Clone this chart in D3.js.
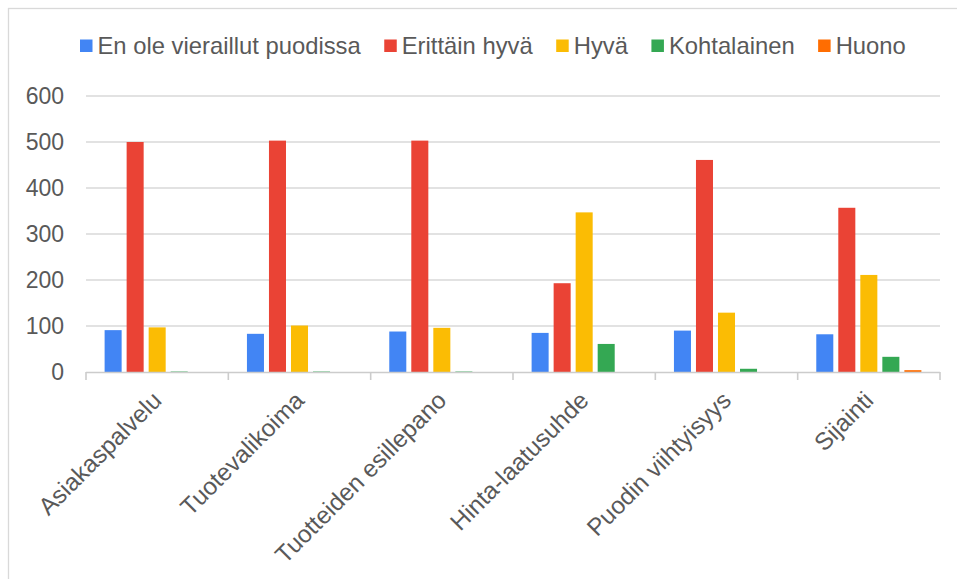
<!DOCTYPE html>
<html>
<head>
<meta charset="utf-8">
<script src="https://cdn.jsdelivr.net/npm/d3@7"></script>
<style>
  html, body { margin: 0; padding: 0; background: #fff; }
  svg { display: block; font-family: "Liberation Sans", Arial, sans-serif; }
</style>
</head>
<body>
<svg id="chart" width="957" height="579"></svg>
<script>
// Survey answers per store aspect
const categories = ["Asiakaspalvelu", "Tuotevalikoima", "Tuotteiden esillepano", "Hinta-laatusuhde", "Puodin viihtyisyys", "Sijainti"];
const seriesNames = ["En ole vieraillut puodissa", "Erittäin hyvä", "Hyvä", "Kohtalainen", "Huono"];
const seriesColors = ["#4285F4", "#EA4335", "#FBBC04", "#34A853", "#FF6D01"];
const enOleVieraillut = [91, 83, 88, 85, 90, 82];
const erittainHyva = [500, 503, 503, 193, 461, 357];
const hyva = [97, 101, 96, 347, 129, 211];
const kohtalainen = [1, 1, 1, 61, 7, 33];
const huono = [0, 0, 0, 0, 0, 4];
const yTicks = [0, 100, 200, 300, 400, 500, 600];

const seriesValues = [enOleVieraillut, erittainHyva, hyva, kohtalainen, huono];

const svg = d3.select("#chart");
const W = 957, H = 579;
const plot = { left: 86, right: 940, top: 96, bottom: 372 };
const textColor = "#595959";
const gridColor = "#d9d9d9";

// outer frame
svg.append("rect")
  .attr("x", 8.5).attr("y", 8.5)
  .attr("width", W).attr("height", H)
  .attr("fill", "#fff").attr("stroke", gridColor).attr("stroke-width", 1.3);

const x0 = d3.scaleBand().domain(categories).range([plot.left, plot.right]).paddingInner(0).paddingOuter(0);
const x1 = d3.scaleBand().domain(seriesNames).range([0, x0.bandwidth()]).paddingInner(0.227).paddingOuter(0.845);
const y = d3.scaleLinear().domain([0, 600]).range([plot.bottom, plot.top]);

// gridlines
svg.append("g").selectAll("line")
  .data(yTicks.filter(t => t > 0))
  .join("line")
  .attr("x1", plot.left).attr("x2", plot.right)
  .attr("y1", d => y(d)).attr("y2", d => y(d))
  .attr("stroke", gridColor).attr("stroke-width", 1.4);

// y axis labels
const yAxis = d3.axisLeft(y).tickValues(yTicks).tickSize(0).tickPadding(22);
const gy = svg.append("g").attr("transform", `translate(${plot.left},0)`).call(yAxis);
gy.select(".domain").remove();
gy.selectAll("text")
  .attr("fill", textColor)
  .style("font-size", "23px")
  .style("font-family", "'Liberation Sans', Arial, sans-serif");

// bars
const groups = svg.append("g").selectAll("g")
  .data(categories)
  .join("g")
  .attr("transform", d => `translate(${x0(d)},0)`);

groups.selectAll("rect")
  .data((c, ci) => seriesNames.map((s, si) => ({ s, si, v: seriesValues[si][ci] })))
  .join("rect")
  .attr("x", d => x1(d.s))
  .attr("width", x1.bandwidth())
  .attr("y", d => y(d.v))
  .attr("height", d => y(0) - y(d.v))
  .attr("fill", d => seriesColors[d.si]);

// x axis with boundary ticks
const gx = svg.append("g").attr("transform", `translate(0,${plot.bottom})`);
gx.append("line")
  .attr("x1", plot.left).attr("x2", plot.right)
  .attr("y1", 0.5).attr("y2", 0.5)
  .attr("stroke", "#cccccc").attr("stroke-width", 1.6);
const boundaries = categories.map(c => x0(c)).concat([plot.right]);
gx.selectAll("line.tick")
  .data(boundaries)
  .join("line")
  .attr("class", "tick")
  .attr("x1", d => d).attr("x2", d => d)
  .attr("y1", 0).attr("y2", 8)
  .attr("stroke", "#cccccc").attr("stroke-width", 1.6);

gx.selectAll("text")
  .data(categories)
  .join("text")
  .attr("transform", d => `translate(${x0(d) + x0.bandwidth() / 2 + 6},30) rotate(-45)`)
  .attr("text-anchor", "end")
  .attr("fill", textColor)
  .style("font-size", "24.3px")
  .text(d => d);

// legend
const legend = svg.append("g").attr("transform", "translate(80,0)");
let lx = 0;
seriesNames.forEach((name, i) => {
  const g = legend.append("g").attr("transform", `translate(${lx},0)`);
  g.append("rect")
    .attr("x", 0).attr("y", 39.5)
    .attr("width", 12.5).attr("height", 12.5)
    .attr("fill", seriesColors[i]);
  const t = g.append("text")
    .attr("x", 17.5).attr("y", 54)
    .attr("fill", textColor)
    .style("font-size", "23.8px")
    .text(name);
  lx += 17.5 + t.node().getComputedTextLength() + 23.5;
});
</script>
</body>
</html>
